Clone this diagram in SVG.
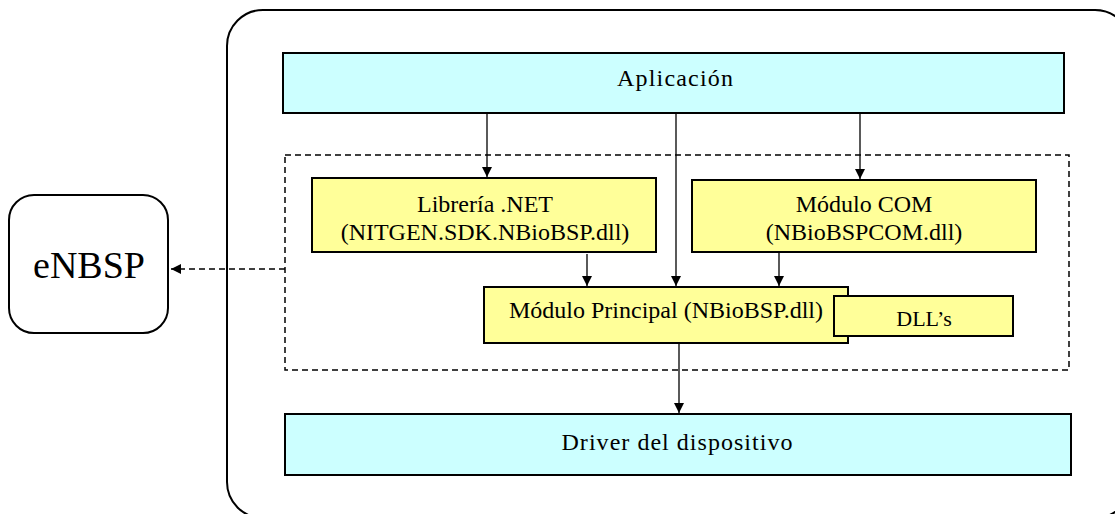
<svg xmlns="http://www.w3.org/2000/svg" width="1115" height="514" viewBox="0 0 1115 514">
<style>
.box{stroke:#000;stroke-width:2}
.cyan{fill:#CCFFFF}
.yellow{fill:#FFFF99}
.t{font-family:"Liberation Serif","Times New Roman",serif;fill:#000;text-anchor:middle}
.ln{stroke:#000;stroke-width:1.3;fill:none}
.dash{stroke:#000;stroke-width:1.5;fill:none;stroke-dasharray:6 4}
</style>
<defs>
<marker id="ah" viewBox="0 0 10 10" refX="10" refY="5" markerWidth="10" markerHeight="10" markerUnits="userSpaceOnUse" orient="auto">
<path d="M0,0 L10,5 L0,10 z" fill="#000"/>
</marker>
</defs>
<rect width="1115" height="514" fill="#fff"/>
<g id="container">
<rect x="227" y="10" width="904" height="508" rx="36" ry="36" fill="none" stroke="#000" stroke-width="2"/>
</g>
<g id="eNBSP">
<rect x="9" y="195" width="159" height="138" rx="25" ry="25" fill="#fff" stroke="#000" stroke-width="2"/>
<text class="t" x="89" y="278" font-size="38">eNBSP</text>
</g>
<g id="group">
<rect x="285" y="155" width="784" height="215" class="dash"/>
</g>
<g id="aplicacion">
<rect class="box cyan" x="283" y="53" width="781" height="60"/>
<text class="t" x="675" y="86" font-size="24" textLength="116" lengthAdjust="spacing">Aplicación</text>
</g>
<g id="libreria">
<rect class="box yellow" x="312" y="178" width="344" height="74"/>
<text class="t" x="485" y="212" font-size="24">Librería .NET</text>
<text class="t" x="485" y="240" font-size="24">(NITGEN.SDK.NBioBSP.dll)</text>
</g>
<g id="com">
<rect class="box yellow" x="692" y="180" width="344" height="72"/>
<text class="t" x="864" y="212" font-size="24">Módulo COM</text>
<text class="t" x="864" y="240" font-size="24">(NBioBSPCOM.dll)</text>
</g>
<g id="principal">
<rect class="box yellow" x="484" y="287" width="364" height="56"/>
<text class="t" x="666" y="318" font-size="24">Módulo Principal (NBioBSP.dll)</text>
</g>
<g id="dlls">
<rect class="box yellow" x="834" y="296" width="179" height="40"/>
<text class="t" x="924" y="326" font-size="22">DLL’s</text>
</g>
<g id="driver">
<rect class="box cyan" x="285" y="414" width="786" height="61"/>
<text class="t" x="677" y="450" font-size="24" textLength="231" lengthAdjust="spacing">Driver del dispositivo</text>
</g>
<g id="connectors">
<line class="ln" x1="487" y1="113" x2="487" y2="177" marker-end="url(#ah)"/>
<line class="ln" x1="676" y1="113" x2="676" y2="286" marker-end="url(#ah)"/>
<line class="ln" x1="860" y1="113" x2="860" y2="179" marker-end="url(#ah)"/>
<line class="ln" x1="587" y1="254" x2="587" y2="286" marker-end="url(#ah)"/>
<line class="ln" x1="779" y1="252" x2="779" y2="286" marker-end="url(#ah)"/>
<line class="ln" x1="679" y1="343" x2="679" y2="413" marker-end="url(#ah)"/>
<line class="dash" x1="285" y1="269" x2="171" y2="269" stroke-width="1.3" marker-end="url(#ah)"/>
</g>
</svg>
